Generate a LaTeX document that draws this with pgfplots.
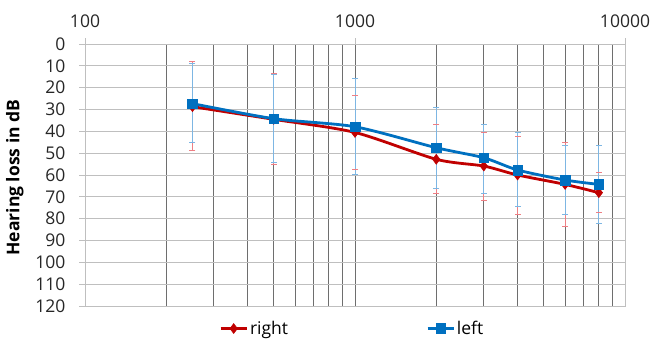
\documentclass[border=0pt]{standalone}
\usepackage{fontspec}
\setmainfont{Open Sans}
\usepackage{pgfplots}
\pgfplotsset{compat=1.18}
\usepackage{pgfplotstable}
\definecolor{cred}{HTML}{C00000}
\definecolor{cblue}{HTML}{0070C0}
\definecolor{ered}{HTML}{EE7F84}
\definecolor{eblue}{HTML}{7DB6E3}
\definecolor{vgrid}{HTML}{6E6E6E}
\definecolor{hgrid}{HTML}{BFBFBF}

\pgfplotstableread{
f v
250 28.7
500 34.5
1000 40.5
2000 52.8
3000 55.9
4000 60.0
6000 64.3
8000 68.1
}\rightdata

\pgfplotstableread{
f v
250 27.3
500 34.2
1000 37.9
2000 47.5
3000 52.1
4000 57.7
6000 62.3
8000 64.3
}\leftdata

\begin{document}
\begin{tikzpicture}
\useasboundingbox (-85pt,-32pt) rectangle (566pt,306pt);
\begin{axis}[
  scale only axis, width=540pt, height=262pt,
  at={(0pt,0pt)}, anchor=south west,
  xmode=log, xmin=100, xmax=10000,
  ymin=0, ymax=120, y dir=reverse,
  xtick={100,1000,10000}, xticklabels={100,1000,10000},
  xticklabel pos=upper, xtick pos=upper,
  ytick={0,10,...,120}, ytick pos=left,
  /pgf/number format/assume math mode=true,
  tick align=outside,
  major tick length=6pt, minor tick length=0pt,
  xmajorgrids=true, xminorgrids=true, ymajorgrids=true,
  major x grid style={vgrid, line width=0.9pt},
  minor x grid style={vgrid, line width=0.9pt},
  major y grid style={hgrid, line width=0.9pt},
  axis line style={hgrid, line width=0.9pt},
  tick style={hgrid, line width=0.9pt},
  every tick label/.append style={font=\fontsize{17.5}{20}\selectfont, text=black!85},
  yticklabel style={xshift=-10pt},
  xticklabel style={yshift=7pt},
  ylabel={Hearing loss in dB},
  ylabel style={font=\fontsize{17.5}{20}\selectfont\bfseries, at={(axis description cs:-0.13,0.49)}, anchor=center},
  legend columns=2,
  legend style={draw=none, fill=none, at={(0.495,-0.086)}, anchor=center,
    font=\fontsize{17.5}{20}\selectfont, inner sep=1pt,
    /tikz/every even column/.append style={column sep=136pt}},
  legend image code/.code={\draw[mark repeat=2,mark phase=2] plot coordinates {(0pt,0pt) (13pt,0pt) (26pt,0pt)};},
  unbounded coords=jump,
]
% error bars (top and bottom of each bar)
\addplot[ered, line width=1pt, mark=-, mark size=3pt, mark options={solid, line width=1pt}, forget plot] coordinates {
(250,7.9) (250,48.7) (250,nan)
(500,13.7) (500,55.1) (500,nan)
(1000,23.7) (1000,57.7) (1000,nan)
(2000,36.8) (2000,68.6) (2000,nan)
(3000,40.5) (3000,71.5) (3000,nan)
(4000,42.5) (4000,78.0) (4000,nan)
(6000,45.0) (6000,83.7) (6000,nan)
(8000,58.8) (8000,77.1)
};
\addplot[eblue, line width=1pt, mark=-, mark size=3pt, mark options={solid, line width=1pt}, forget plot] coordinates {
(250,8.9) (250,45.2) (250,nan)
(500,13.9) (500,54.4) (500,nan)
(1000,15.9) (1000,59.7) (1000,nan)
(2000,29.2) (2000,66.4) (2000,nan)
(3000,36.8) (3000,68.4) (3000,nan)
(4000,40.6) (4000,74.4) (4000,nan)
(6000,46.3) (6000,78.3) (6000,nan)
(8000,46.6) (8000,82.3)
};
\addplot[cred, line width=2.8pt, smooth, tension=0.45, mark=diamond*, mark size=5pt,
  mark options={solid, fill=cred, line width=0.5pt}]
  table[x=f, y=v] {\rightdata};
\addlegendentry{right}
\addplot[cblue, line width=2.8pt, smooth, tension=0.45, mark=square*, mark size=4.8pt,
  mark options={solid, fill=cblue, line width=0.5pt}]
  table[x=f, y=v] {\leftdata};
\addlegendentry{left}
\end{axis}
\end{tikzpicture}
\end{document}
